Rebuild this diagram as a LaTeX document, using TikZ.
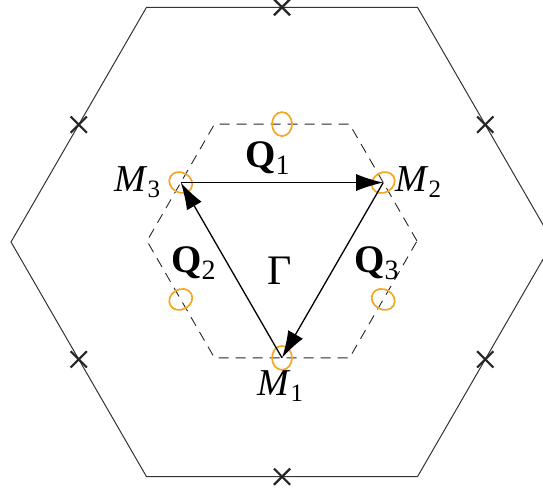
\documentclass[tikz,border=0pt]{standalone}
\usepackage{fontspec}
\setmainfont{Liberation Serif}
\usetikzlibrary{arrows.meta,shapes.geometric,shapes.misc,calc}
\definecolor{orng}{HTML}{F5A623}
\definecolor{edgegray}{HTML}{333333}
\newcommand{\mlbl}[1]{{\fontsize{38}{38}\selectfont\textit{M}\raisebox{-6pt}{\fontsize{25}{25}\selectfont #1}}}
\newcommand{\qlbl}[1]{{\fontsize{39}{39}\selectfont\textbf{Q}\raisebox{-7pt}{\fontsize{28}{28}\selectfont #1}}}
\begin{document}
\begin{tikzpicture}[x=1pt,y=1pt,
  outerhex/.style={draw=edgegray,line width=1pt},
  innerhex/.style={draw=black!85,line width=0.9pt,dash pattern=on 10pt off 7pt},
  pocket/.style={draw=orng,line width=1.7pt,ellipse,inner sep=0pt,minimum width=24pt,minimum height=20pt},
  crossmark/.style={draw=black!85,cross out,line width=2.2pt,inner sep=0pt,minimum size=14pt},
  qarrow/.style={draw=black,line width=1.3pt,-{Latex[length=27pt,width=17pt]}},
  lbl/.style={inner sep=0pt,anchor=base west}]
\useasboundingbox (0,0) rectangle (543,489);
\clip (0,0) rectangle (543,489);
\coordinate (co) at (282,247);
\coordinate (ci) at (282,248);
\foreach \i in {0,...,5}{
  \coordinate (O\i) at ($(co)+(60*\i:271)$);
  \coordinate (I\i) at ($(ci)+(60*\i:135)$);
}
\draw[outerhex] (O0)--(O1)--(O2)--(O3)--(O4)--(O5)--cycle;
\draw[innerhex] (I0)--(I1)--(I2)--(I3)--(I4)--(I5)--cycle;
\foreach \i in {0,...,5}{
  \node[crossmark] (x\i) at ($(co)+(30+60*\i:234.7)$) {};
}
\foreach \i in {0,...,5}{
  \node[pocket,rotate=30+60*\i] (e\i) at ($(ci)+(30+60*\i:116.9)$) {};
}
\coordinate (m2) at (e0.center);
\coordinate (m3) at (e2.center);
\coordinate (m1) at (e4.center);
\draw[qarrow] (m3) -- (m2);
\draw[qarrow] (m2) -- (m1);
\draw[qarrow] (m1) -- (m3);
\node[lbl] (lM3) at (114,297) {\mlbl{3}};
\node[lbl] (lM2) at (395,297) {\mlbl{2}};
\node[lbl] (lM1) at (257,93) {\mlbl{1}};
\node[lbl] (lQ1) at (245,321) {\qlbl{1}};
\node[lbl] (lQ2) at (171,216) {\qlbl{2}};
\node[lbl] (lQ3) at (354,216) {\qlbl{3}};
\node[lbl] (lG) at (267,204) {\fontsize{42}{42}\selectfont Γ};
\end{tikzpicture}
\end{document}
